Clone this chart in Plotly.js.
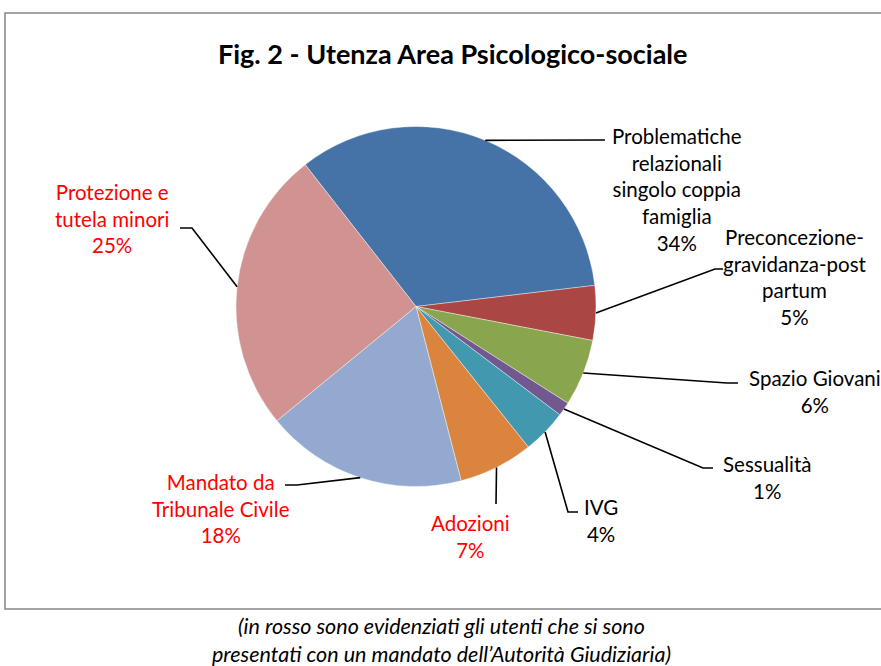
<!DOCTYPE html>
<html>
<head>
<meta charset="utf-8">
<script src="https://cdn.plot.ly/plotly-3.0.1.min.js"></script>
<style>
  html, body { margin: 0; padding: 0; background: #fff; }
  #chart { width: 881px; height: 666px; }
</style>
</head>
<body>
<div id="chart"></div>
<script>
// --- Data (percent shares) ---
const categories = [
    'Problematiche<br>relazionali<br>singolo coppia<br>famiglia',
    'Preconcezione-<br>gravidanza-post<br>partum',
    'Spazio Giovani',
    'Sessualità',
    'IVG',
    'Adozioni',
    'Mandato da<br>Tribunale Civile',
    'Protezione e<br>tutela minori'
];
const shares = [33.7, 4.9, 6.0, 1.25, 4.0, 6.7, 18.1, 25.4];
// labels shown in red = users sent by the court
const courtOrdered = [false, false, false, false, false, true, true, true];

const sliceColors = ['#4572A7', '#AA4643', '#89A54E', '#71588F',
                     '#4198AF', '#DB843D', '#93A9CF', '#D19392'];

// --- Layout helpers (pixel -> paper) ---
const W = 881, H = 666;
const px = x => x / W;
const py = y => 1 - y / H;

const cx = 416, cy = 306.5, R = 180;   // pie centre / radius in px
const startAngle = -38;                // degrees, clockwise from 12 o'clock

// where each label sits: text centre, elbow of leader, end of leader
const labelPos = [
    { tx: 677, ty: 189, ex: 600, ey: 140, hx: 605, hy: 140 },
    { tx: 795, ty: 277, ex: 715, ey: 269, hx: 723, hy: 269 },
    { tx: 815, ty: 391, ex: 727, ey: 383, hx: 738, hy: 383 },
    { tx: 767, ty: 477, ex: 703, ey: 468, hx: 713, hy: 468 },
    { tx: 601, ty: 520, ex: 568, ey: 512, hx: 578, hy: 512 },
    { tx: 470, ty: 536, ex: 496, ey: 504, hx: 496, hy: 504 },
    { tx: 221, ty: 508, ex: 297, ey: 485, hx: 285, hy: 485 },
    { tx: 112, ty: 219, ex: 192, ey: 228, hx: 180, hy: 228 }
];

const font = "Lato, 'Open Sans', 'Liberation Sans', sans-serif";

// leader lines start at the middle of each slice's arc
const total = shares.reduce((a, b) => a + b, 0);
let acc = 0;
const shapes = [];
const annotations = [];
shares.forEach((v, i) => {
    const mid = (startAngle + (acc + v / 2) / total * 360) * Math.PI / 180;
    acc += v;
    const ax = cx + R * Math.sin(mid);
    const ay = cy - R * Math.cos(mid);
    const p = labelPos[i];
    shapes.push({
        type: 'path', xref: 'paper', yref: 'paper',
        path: `M ${px(ax)},${py(ay)} L ${px(p.ex)},${py(p.ey)} L ${px(p.hx)},${py(p.hy)}`,
        line: { color: '#000', width: 1.6 }
    });
    annotations.push({
        xref: 'paper', yref: 'paper', x: px(p.tx), y: py(p.ty),
        xanchor: 'center', yanchor: 'middle', showarrow: false, align: 'center',
        text: categories[i] + '<br>' + Math.round(v / total * 100) + '%',
        font: { family: font, size: 20.5, color: courtOrdered[i] ? '#FF0000' : '#000' }
    });
});

// chart title
annotations.push({
    xref: 'paper', yref: 'paper', x: px(452), y: py(53),
    xanchor: 'center', yanchor: 'middle', showarrow: false,
    text: '<b>Fig. 2 - Utenza Area Psicologico-sociale</b>',
    font: { family: font, size: 27, color: '#000' }
});

// caption under the frame
annotations.push({
    xref: 'paper', yref: 'paper', x: px(441), y: py(640),
    xanchor: 'center', yanchor: 'middle', showarrow: false, align: 'center',
    text: '<i>(in rosso sono evidenziati gli utenti che si sono<br>presentati con un mandato dell’Autorità Giudiziaria)</i>',
    font: { family: font, size: 21.5, color: '#000' }
});

// chart frame
shapes.push({
    type: 'rect', xref: 'paper', yref: 'paper',
    x0: px(5), x1: px(900), y0: py(13), y1: py(609),
    line: { color: '#868686', width: 1.5 }, layer: 'below'
});

Plotly.newPlot('chart', [{
    type: 'pie',
    labels: categories,
    values: shares,
    sort: false,
    direction: 'clockwise',
    rotation: startAngle,
    textinfo: 'none',
    hoverinfo: 'none',
    marker: { colors: sliceColors, line: { color: '#ffffff', width: 0.4 } },
    domain: { x: [px(cx - R), px(cx + R)], y: [py(cy + R), py(cy - R)] }
}], {
    width: W, height: H,
    margin: { l: 0, r: 0, t: 0, b: 0 },
    showlegend: false,
    paper_bgcolor: '#fff',
    shapes: shapes,
    annotations: annotations
}, { staticPlot: true });
</script>
</body>
</html>
